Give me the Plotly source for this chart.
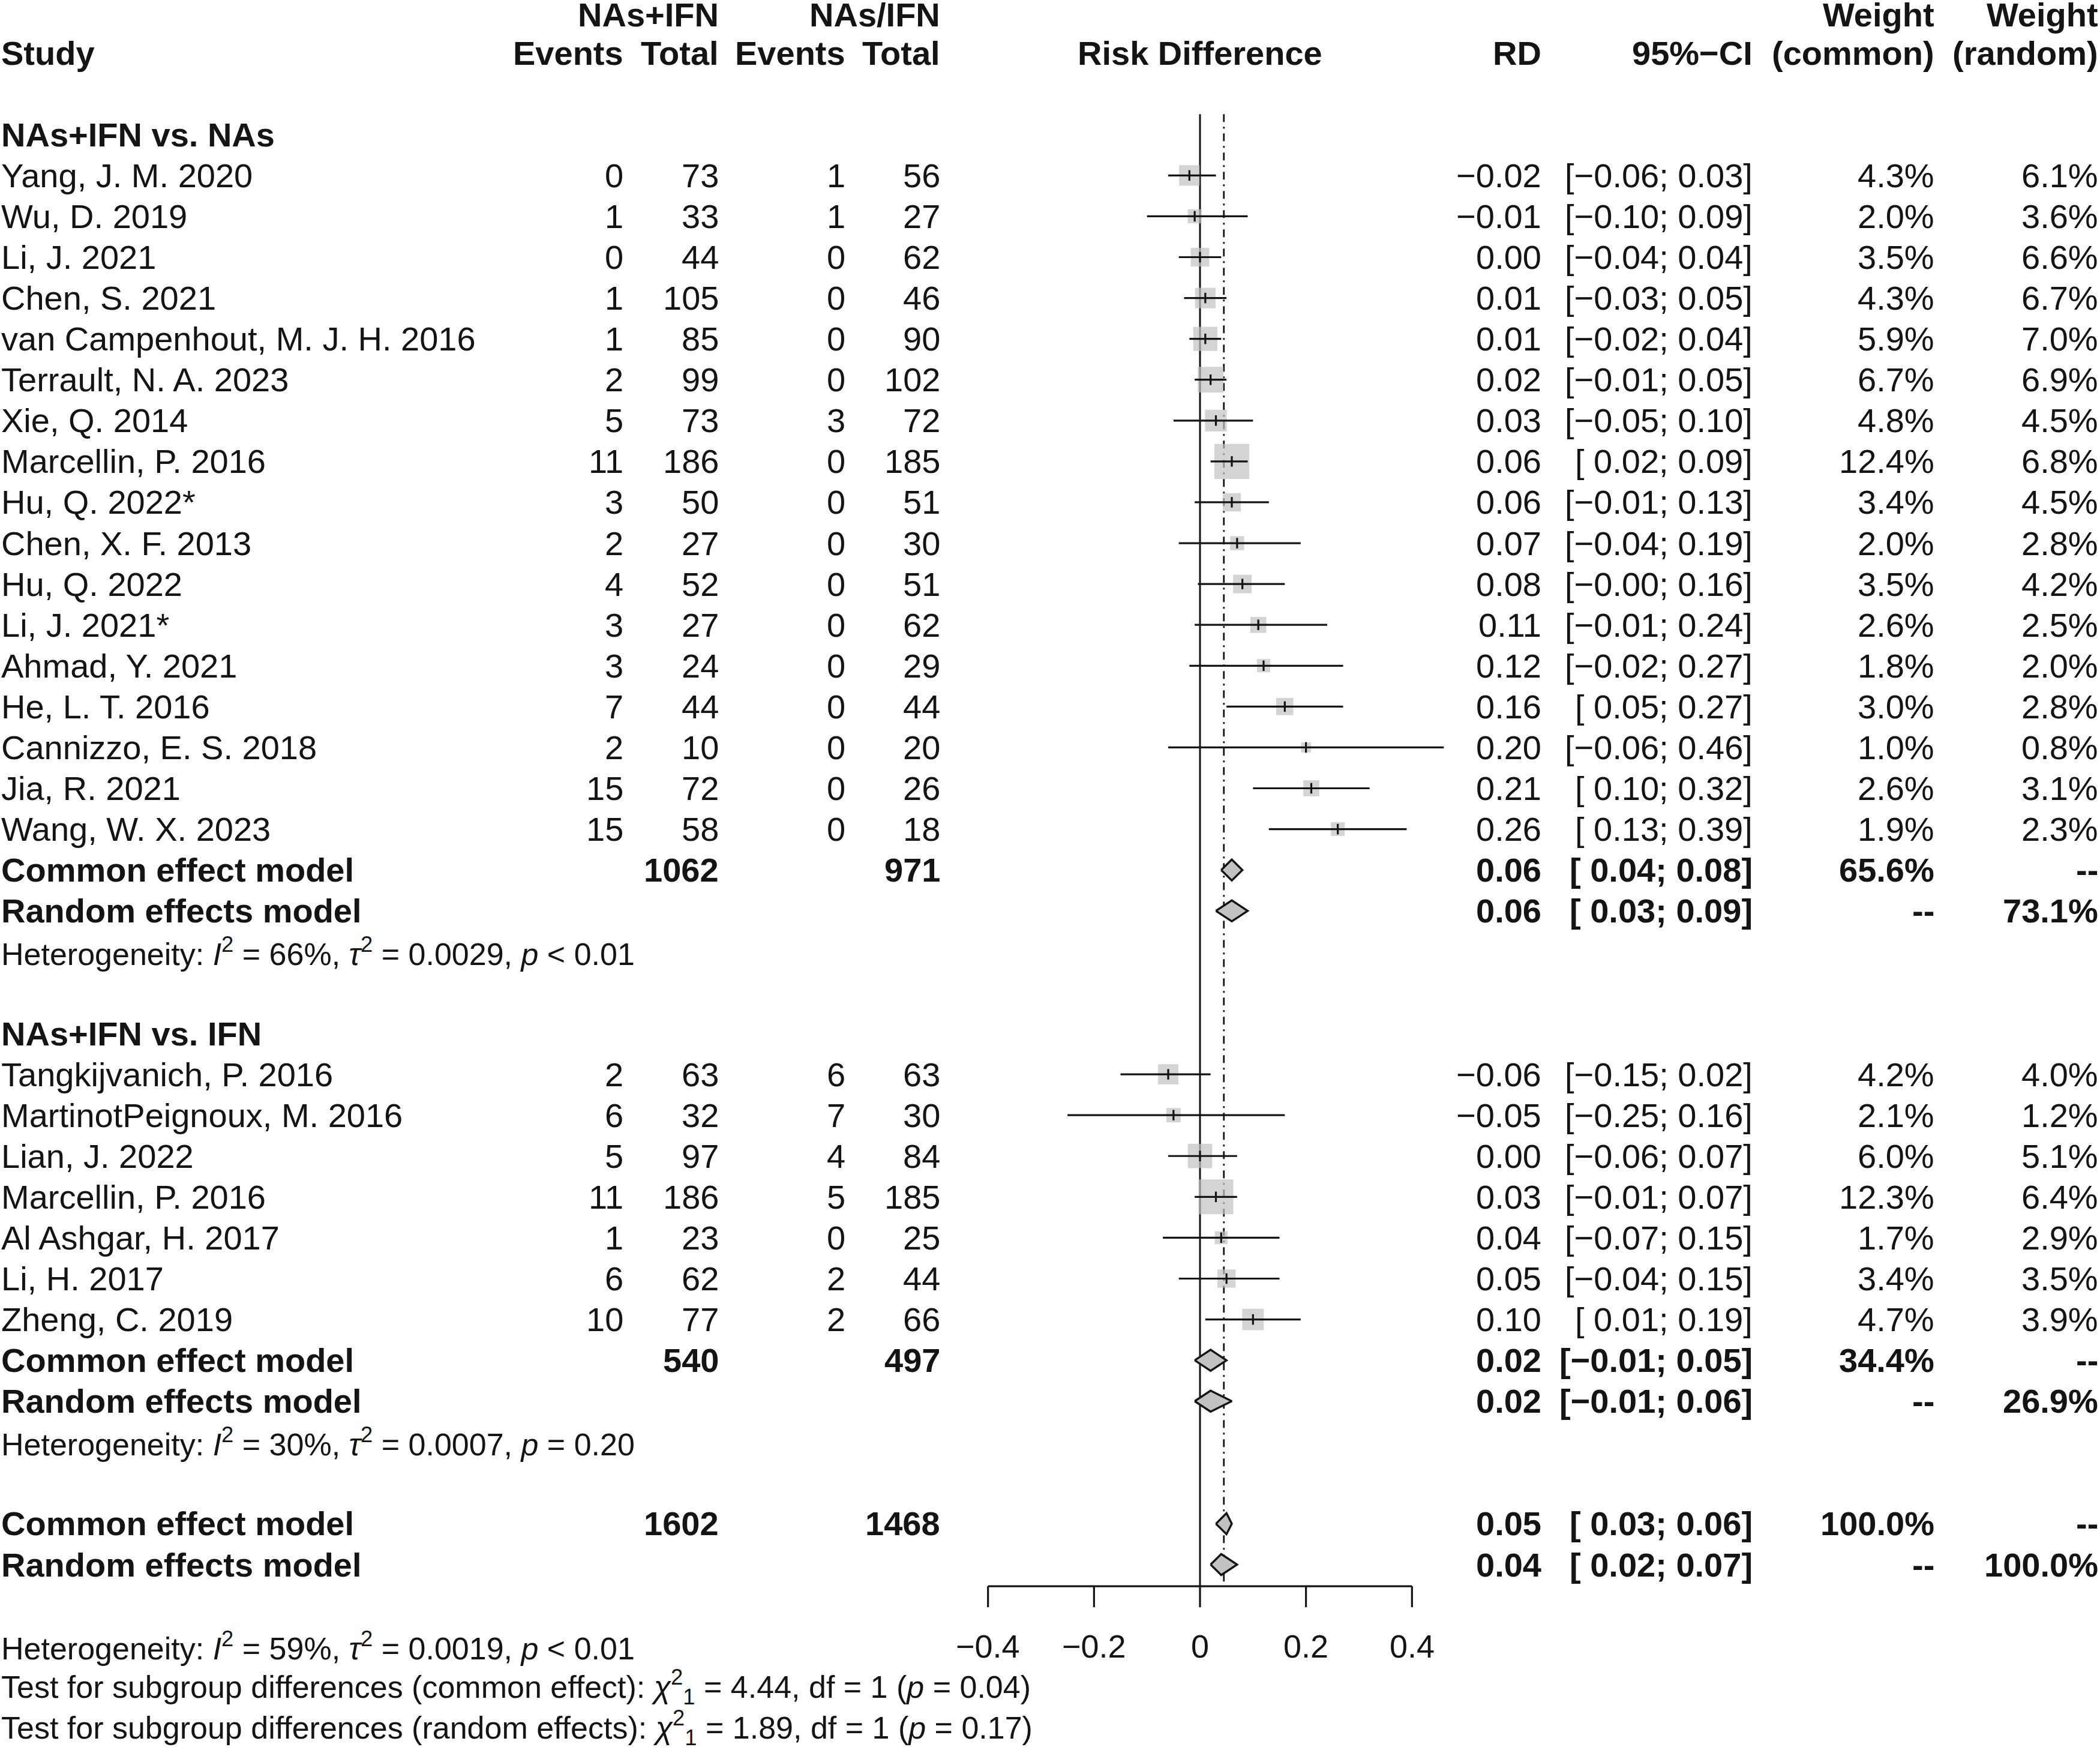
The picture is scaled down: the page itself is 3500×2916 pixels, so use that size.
import math
import plotly.graph_objects as go

# ---------------- data ----------------
g1_title = "NAs+IFN vs. NAs"
g1_study = ["Yang, J. M. 2020", "Wu, D. 2019", "Li, J. 2021", "Chen, S. 2021",
            "van Campenhout, M. J. H. 2016", "Terrault, N. A. 2023", "Xie, Q. 2014",
            "Marcellin, P. 2016", "Hu, Q. 2022*", "Chen, X. F. 2013", "Hu, Q. 2022",
            "Li, J. 2021*", "Ahmad, Y. 2021", "He, L. T. 2016", "Cannizzo, E. S. 2018",
            "Jia, R. 2021", "Wang, W. X. 2023"]
g1_ev1 = [0, 1, 0, 1, 1, 2, 5, 11, 3, 2, 4, 3, 3, 7, 2, 15, 15]
g1_tot1 = [73, 33, 44, 105, 85, 99, 73, 186, 50, 27, 52, 27, 24, 44, 10, 72, 58]
g1_ev2 = [1, 1, 0, 0, 0, 0, 3, 0, 0, 0, 0, 0, 0, 0, 0, 0, 0]
g1_tot2 = [56, 27, 62, 46, 90, 102, 72, 185, 51, 30, 51, 62, 29, 44, 20, 26, 18]
g1_rd = [-0.02, -0.01, 0.00, 0.01, 0.01, 0.02, 0.03, 0.06, 0.06, 0.07, 0.08, 0.11, 0.12, 0.16, 0.20, 0.21, 0.26]
g1_lo = [-0.06, -0.10, -0.04, -0.03, -0.02, -0.01, -0.05, 0.02, -0.01, -0.04, -0.004, -0.01, -0.02, 0.05, -0.06, 0.10, 0.13]
g1_hi = [0.03, 0.09, 0.04, 0.05, 0.04, 0.05, 0.10, 0.09, 0.13, 0.19, 0.16, 0.24, 0.27, 0.27, 0.46, 0.32, 0.39]
g1_wc = [4.3, 2.0, 3.5, 4.3, 5.9, 6.7, 4.8, 12.4, 3.4, 2.0, 3.5, 2.6, 1.8, 3.0, 1.0, 2.6, 1.9]
g1_wr = [6.1, 3.6, 6.6, 6.7, 7.0, 6.9, 4.5, 6.8, 4.5, 2.8, 4.2, 2.5, 2.0, 2.8, 0.8, 3.1, 2.3]

g2_title = "NAs+IFN vs. IFN"
g2_study = ["Tangkijvanich, P. 2016", "MartinotPeignoux, M. 2016", "Lian, J. 2022",
            "Marcellin, P. 2016", "Al Ashgar, H. 2017", "Li, H. 2017", "Zheng, C. 2019"]
g2_ev1 = [2, 6, 5, 11, 1, 6, 10]
g2_tot1 = [63, 32, 97, 186, 23, 62, 77]
g2_ev2 = [6, 7, 4, 5, 0, 2, 2]
g2_tot2 = [63, 30, 84, 185, 25, 44, 66]
g2_rd = [-0.06, -0.05, 0.00, 0.03, 0.04, 0.05, 0.10]
g2_lo = [-0.15, -0.25, -0.06, -0.01, -0.07, -0.04, 0.01]
g2_hi = [0.02, 0.16, 0.07, 0.07, 0.15, 0.15, 0.19]
g2_wc = [4.2, 2.1, 6.0, 12.3, 1.7, 3.4, 4.7]
g2_wr = [4.0, 1.2, 5.1, 6.4, 2.9, 3.5, 3.9]

# summary rows: [group1, group2, overall]
sum_tot1 = [1062, 540, 1602]
sum_tot2 = [971, 497, 1468]
common_rd = [0.06, 0.02, 0.05]
common_lo = [0.04, -0.01, 0.03]
common_hi = [0.08, 0.05, 0.06]
common_w = [65.6, 34.4, 100.0]
random_rd = [0.06, 0.02, 0.04]
random_lo = [0.03, -0.01, 0.02]
random_hi = [0.09, 0.06, 0.07]
random_w = [73.1, 26.9, 100.0]

het_i2 = [66, 30, 59]
het_tau2 = ["0.0029", "0.0007", "0.0019"]
het_p = ["&lt; 0.01", "= 0.20", "&lt; 0.01"]

test_model = ["common effect", "random effects"]
test_chi2 = [4.44, 1.89]
test_df = [1, 1]
test_p = [0.04, 0.17]

common_line = 0.045          # overall common-effect estimate (dash-dot line)
x_ticks = [-0.4, -0.2, 0, 0.2, 0.4]

# ---------------- geometry ----------------
W, H = 3500, 2916
ROW = 68.08           # px per row
Y0 = 20.0             # px of row 0
X_ZERO = 2000.0       # px of RD = 0
X_UNIT = 883.25       # px per 1.0 RD
FONT = "Liberation Sans, Arial, Helvetica, sans-serif"
FS = 56
FS_SMALL = 52
FS_TICK = 54
BLACK = "#141414"
GREY = "#c2c2c2"

SQ_REF = 58.0 / math.sqrt(12.3)   # square side per sqrt(weight)

# column right edges (px)
C_EV1, C_TOT1, C_EV2, C_TOT2 = 1041, 1200, 1411, 1569
C_RD, C_CI, C_WC, C_WR = 2571, 2923, 3226, 3499

fig = go.Figure()
ann = []


def txt(xpx, r, s, anchor="right", bold=False, size=FS, xref="paper"):
    if bold:
        s = "<b>" + s + "</b>"
    x = xpx / W if xref == "paper" else xpx
    ann.append(dict(x=x, y=r, xref=xref, yref="y", text=s, showarrow=False,
                    xanchor=anchor, yanchor="middle",
                    font=dict(family=FONT, size=size, color=BLACK)))


def f2(v):
    return f"{v:.2f}".replace("-", "\u2212")


def fci(lo, hi):
    a = f2(lo)
    if not f"{lo:.2f}".startswith("-"):
        a = " " + a
    return f"[{a}; {f2(hi)}]"


# ---------------- rows ----------------
r_g1_title = 3
r_g1 = list(range(4, 4 + len(g1_study)))
r_g1_common = r_g1[-1] + 1
r_g1_random = r_g1_common + 1
r_g1_het = r_g1_random + 1
r_g2_title = r_g1_het + 2
r_g2 = list(range(r_g2_title + 1, r_g2_title + 1 + len(g2_study)))
r_g2_common = r_g2[-1] + 1
r_g2_random = r_g2_common + 1
r_g2_het = r_g2_random + 1
r_all_common = r_g2_het + 2
r_all_random = r_all_common + 1
r_axis = r_all_random + 0.53
r_ticklab = r_all_random + 2
r_all_het = r_ticklab
r_tests = [r_all_het + 1, r_all_het + 2]
r_top_line = 2.5
r_head = 0.06

# ---------------- header ----------------
txt(C_TOT1, r_head, "NAs+IFN", bold=True)
txt(C_TOT2, r_head, "NAs/IFN", bold=True)
txt(C_WC, r_head, "Weight", bold=True)
txt(C_WR, r_head, "Weight", bold=True)
txt(0, 1, "Study", anchor="left", bold=True)
txt(C_EV1, 1, "Events", bold=True)
txt(C_TOT1, 1, "Total", bold=True)
txt(C_EV2, 1, "Events", bold=True)
txt(C_TOT2, 1, "Total", bold=True)
txt(0, 1, "Risk Difference", anchor="center", bold=True, xref="x")
txt(C_RD, 1, "RD", bold=True)
txt(C_CI, 1, "95%\u2212CI", bold=True)
txt(C_WC, 1, "(common)", bold=True)
txt(C_WR, 1, "(random)", bold=True)

# ---------------- study rows ----------------
groups = [
    (g1_title, r_g1_title, r_g1, g1_study, g1_ev1, g1_tot1, g1_ev2, g1_tot2, g1_rd, g1_lo, g1_hi, g1_wc, g1_wr,
     r_g1_common, r_g1_random, r_g1_het),
    (g2_title, r_g2_title, r_g2, g2_study, g2_ev1, g2_tot1, g2_ev2, g2_tot2, g2_rd, g2_lo, g2_hi, g2_wc, g2_wr,
     r_g2_common, r_g2_random, r_g2_het),
]

sq_x, sq_y, sq_s = [], [], []
ci_x, ci_y = [], []
dia_rows = []

for gi, (title, rt, rows, st, e1, t1, e2, t2, rd, lo, hi, wc, wr, rc, rr, rh) in enumerate(groups):
    txt(0, rt, title, anchor="left", bold=True)
    for i, r in enumerate(rows):
        txt(0, r, st[i], anchor="left")
        txt(C_EV1, r, str(e1[i]))
        txt(C_TOT1, r, str(t1[i]))
        txt(C_EV2, r, str(e2[i]))
        txt(C_TOT2, r, str(t2[i]))
        txt(C_RD, r, f2(rd[i]))
        txt(C_CI, r, fci(lo[i], hi[i]))
        txt(C_WC, r, f"{wc[i]:.1f}%")
        txt(C_WR, r, f"{wr[i]:.1f}%")
        sq_x.append(rd[i]); sq_y.append(r); sq_s.append(SQ_REF * math.sqrt(wc[i]))
        ci_x += [lo[i], hi[i], None]; ci_y += [r, r, None]
    # summaries
    txt(0, rc, "Common effect model", anchor="left", bold=True)
    txt(C_TOT1, rc, str(sum_tot1[gi]), bold=True)
    txt(C_TOT2, rc, str(sum_tot2[gi]), bold=True)
    txt(C_RD, rc, f2(common_rd[gi]), bold=True)
    txt(C_CI, rc, fci(common_lo[gi], common_hi[gi]), bold=True)
    txt(C_WC, rc, f"{common_w[gi]:.1f}%", bold=True)
    txt(C_WR, rc, "--", bold=True)
    txt(0, rr, "Random effects model", anchor="left", bold=True)
    txt(C_RD, rr, f2(random_rd[gi]), bold=True)
    txt(C_CI, rr, fci(random_lo[gi], random_hi[gi]), bold=True)
    txt(C_WC, rr, "--", bold=True)
    txt(C_WR, rr, f"{random_w[gi]:.1f}%", bold=True)
    txt(0, rh, f"Heterogeneity: <i>I</i><sup>2</sup> = {het_i2[gi]}%, <i>\u03c4</i><sup>2</sup> = {het_tau2[gi]}, "
               f"<i>p</i> {het_p[gi]}", anchor="left", size=FS_SMALL)
    dia_rows.append((rc, common_rd[gi], common_lo[gi], common_hi[gi]))
    dia_rows.append((rr, random_rd[gi], random_lo[gi], random_hi[gi]))

# overall
txt(0, r_all_common, "Common effect model", anchor="left", bold=True)
txt(C_TOT1, r_all_common, str(sum_tot1[2]), bold=True)
txt(C_TOT2, r_all_common, str(sum_tot2[2]), bold=True)
txt(C_RD, r_all_common, f2(common_rd[2]), bold=True)
txt(C_CI, r_all_common, fci(common_lo[2], common_hi[2]), bold=True)
txt(C_WC, r_all_common, f"{common_w[2]:.1f}%", bold=True)
txt(C_WR, r_all_common, "--", bold=True)
txt(0, r_all_random, "Random effects model", anchor="left", bold=True)
txt(C_RD, r_all_random, f2(random_rd[2]), bold=True)
txt(C_CI, r_all_random, fci(random_lo[2], random_hi[2]), bold=True)
txt(C_WC, r_all_random, "--", bold=True)
txt(C_WR, r_all_random, f"{random_w[2]:.1f}%", bold=True)
dia_rows.append((r_all_common, common_rd[2], common_lo[2], common_hi[2]))
dia_rows.append((r_all_random, random_rd[2], random_lo[2], random_hi[2]))

txt(0, r_all_het, f"Heterogeneity: <i>I</i><sup>2</sup> = {het_i2[2]}%, <i>\u03c4</i><sup>2</sup> = {het_tau2[2]}, "
                  f"<i>p</i> {het_p[2]}", anchor="left", size=FS_SMALL)
for k in range(2):
    txt(0, r_tests[k], f"Test for subgroup differences ({test_model[k]}): <i>\u03c7</i><sup>2</sup><sub>1</sub> = "
                       f"{test_chi2[k]:.2f}, df = {test_df[k]} (<i>p</i> = {test_p[k]:.2f})",
        anchor="left", size=FS_SMALL)

# ---------------- marks ----------------
LW = 3.2
# reference lines
fig.add_trace(go.Scatter(x=[0, 0], y=[r_top_line, r_axis], mode="lines",
                         line=dict(color=BLACK, width=3), hoverinfo="skip"))
fig.add_trace(go.Scatter(x=[common_line, common_line], y=[r_top_line, r_axis], mode="lines",
                         line=dict(color=BLACK, width=2.8, dash="13px,8px,3px,8px"), hoverinfo="skip"))
# squares
fig.add_trace(go.Scatter(x=sq_x, y=sq_y, mode="markers",
                         marker=dict(symbol="square", size=sq_s, color=GREY, line=dict(width=0)),
                         hoverinfo="skip"))
# CI lines
fig.add_trace(go.Scatter(x=ci_x, y=ci_y, mode="lines", line=dict(color=BLACK, width=LW),
                         hoverinfo="skip"))
# estimate ticks
fig.add_trace(go.Scatter(x=sq_x, y=sq_y, mode="markers",
                         marker=dict(symbol="line-ns", size=12.5, color=BLACK,
                                     line=dict(color=BLACK, width=LW)),
                         hoverinfo="skip"))
# diamonds
DH = 17.5 / ROW
for (r, est, lo, hi) in dia_rows:
    fig.add_trace(go.Scatter(x=[lo, est, hi, est, lo], y=[r, r - DH, r, r + DH, r],
                             mode="lines", fill="toself", fillcolor=GREY,
                             line=dict(color=BLACK, width=3.4), hoverinfo="skip"))
# x axis (drawn with ticks)
TICK = 35.0 / ROW
ax_x = [x_ticks[0], x_ticks[-1], None]
ax_y = [r_axis, r_axis, None]
for t in x_ticks:
    ax_x += [t, t, None]
    ax_y += [r_axis, r_axis + TICK, None]
fig.add_trace(go.Scatter(x=ax_x, y=ax_y, mode="lines", line=dict(color=BLACK, width=3.2),
                         hoverinfo="skip"))
for t in x_ticks:
    lab = ("0" if t == 0 else f"{t:.1f}").replace("-", "\u2212")
    txt(t, r_ticklab, lab, anchor="center", size=FS_TICK, xref="x")

fig.update_layout(
    width=W, height=H,
    margin=dict(l=0, r=0, t=0, b=0, pad=0),
    paper_bgcolor="white", plot_bgcolor="white",
    showlegend=False,
    xaxis=dict(range=[-X_ZERO / X_UNIT, (W - X_ZERO) / X_UNIT], visible=False, domain=[0, 1],
               fixedrange=True),
    yaxis=dict(range=[(H - Y0) / ROW, -Y0 / ROW], visible=False, domain=[0, 1], fixedrange=True),
    annotations=ann,
    font=dict(family=FONT, color=BLACK),
)

fig.write_html("out.html", config={"displayModeBar": False},
               post_script="document.body.style.margin='0';document.body.style.overflow='hidden';")
